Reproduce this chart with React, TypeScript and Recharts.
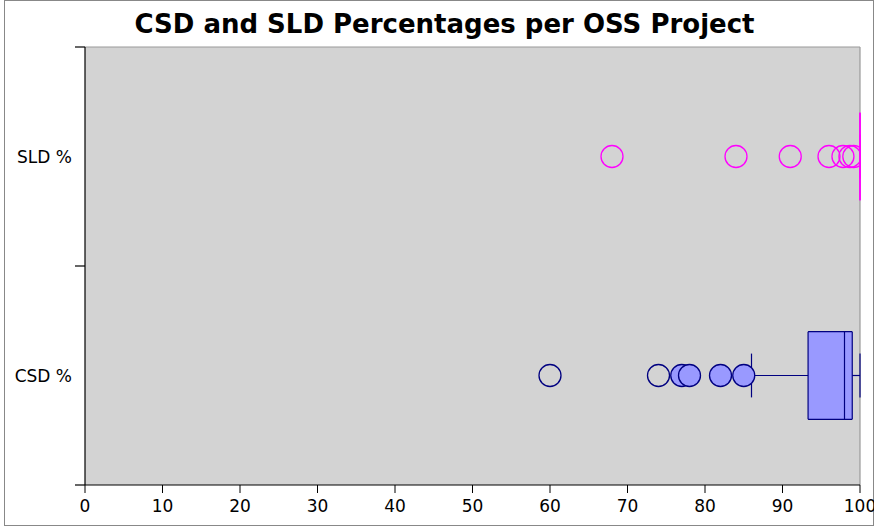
import {
  CartesianGrid,
  ComposedChart,
  ReferenceArea,
  ReferenceLine,
  Scatter,
  XAxis,
  YAxis,
} from 'recharts'

const categories = ['CSD %', 'SLD %']
const categoryPos = [1, 3]
const xTicks = [0, 10, 20, 30, 40, 50, 60, 70, 80, 90, 100]
const yTicks = [0, 1, 2, 3, 4]

// five-number summaries per category
const boxLow = [86, 100]
const boxQ1 = [93.3, 100]
const boxMedian = [98, 100]
const boxQ3 = [99, 100]
const boxHigh = [100, 100]

// outliers: mild = inside 3*IQR (filled), extreme = outside (hollow)
const csdOutliers = [60, 74, 77, 78, 82, 85]
const csdOutlierKind = ['extreme', 'extreme', 'mild', 'mild', 'mild', 'mild']
const sldOutliers = [68, 84, 91, 96, 97.8, 98.7, 99.2]
const sldOutlierKind = ['extreme', 'extreme', 'extreme', 'extreme', 'extreme', 'extreme', 'extreme']

const colors = ['#000080', '#ff00ff']
const boxFill = '#9999ff'

const csdPoints = csdOutliers.map((x, i) => ({ x, y: categoryPos[0], kind: csdOutlierKind[i] }))
const sldPoints = sldOutliers.map((x, i) => ({ x, y: categoryPos[1], kind: sldOutlierKind[i] }))

function boxElements(i: number) {
  const y = categoryPos[i]
  const c = colors[i]
  const half = 0.4
  const cap = 0.2
  const seg = (x1: number, y1: number, x2: number, y2: number, key: string) => (
    <ReferenceLine
      key={`${i}-${key}`}
      segment={[{ x: x1, y: y1 }, { x: x2, y: y2 }]}
      stroke={c}
      strokeWidth={1.2}
      ifOverflow="visible"
    />
  )
  return [
    boxQ3[i] > boxQ1[i] ? (
      <ReferenceArea
        key={`${i}-area`}
        x1={boxQ1[i]}
        x2={boxQ3[i]}
        y1={y - half}
        y2={y + half}
        fill={boxFill}
        fillOpacity={1}
        stroke="none"
        ifOverflow="visible"
      />
    ) : null,
    seg(boxLow[i], y, boxQ1[i], y, 'wl'),
    seg(boxQ3[i], y, boxHigh[i], y, 'wh'),
    seg(boxLow[i], y - cap, boxLow[i], y + cap, 'cl'),
    seg(boxHigh[i], y - cap, boxHigh[i], y + cap, 'ch'),
    seg(boxQ1[i], y - half, boxQ3[i], y - half, 'bb'),
    seg(boxQ1[i], y + half, boxQ3[i], y + half, 'bt'),
    seg(boxQ1[i], y - half, boxQ1[i], y + half, 'bl'),
    seg(boxQ3[i], y - half, boxQ3[i], y + half, 'br'),
    seg(boxMedian[i], y - half, boxMedian[i], y + half, 'md'),
  ]
}

function outlierShape(color: string) {
  return (props: any) => {
    const { cx, cy, payload } = props
    if (cx == null || cy == null) return null
    return (
      <circle
        cx={cx}
        cy={cy}
        r={11}
        fill={payload.kind === 'mild' ? boxFill : 'none'}
        stroke={color}
        strokeWidth={1.3}
      />
    )
  }
}

function YTick(props: any) {
  const { x, y, payload } = props
  const idx = categoryPos.indexOf(payload.value)
  if (idx >= 0) {
    return (
      <text x={x - 1} y={y} dy={6} textAnchor="end" fill="#000" fontSize={17}>
        {categories[idx]}
      </text>
    )
  }
  return <line x1={x + 2} x2={x + 12} y1={y} y2={y} stroke="#000" strokeWidth={1.2} />
}

export default function App() {
  return (
    <div
      style={{
        position: 'absolute',
        left: 0,
        top: 0,
        width: 874,
        height: 526,
        background: '#fff',
        fontFamily: '"DejaVu Sans", sans-serif',
      }}
    >
      <div
        style={{
          position: 'absolute',
          left: 4,
          top: 0,
          width: 870,
          height: 526,
          boxSizing: 'border-box',
          border: '1px solid #888',
        }}
      />
      <div
        style={{
          position: 'absolute',
          left: 0,
          top: 9,
          width: 889,
          textAlign: 'center',
          fontSize: 26,
          fontWeight: 'bold',
          whiteSpace: 'nowrap',
          color: '#000',
        }}
      >
        CSD and SLD Percentages per OSS Project
      </div>
      <div style={{ position: 'absolute', left: 0, top: 0 }}>
        <ComposedChart
          width={874}
          height={526}
          margin={{ top: 47, right: 14, left: 0, bottom: 0 }}
          style={{ fontFamily: '"DejaVu Sans", sans-serif' }}
        >
          <CartesianGrid fill="#d3d3d3" horizontal={false} vertical={false} />
          <XAxis
            type="number"
            dataKey="x"
            domain={[0, 100]}
            ticks={xTicks}
            allowDataOverflow
            height={41}
            tickSize={8}
            tickMargin={7}
            stroke="#000"
            axisLine={{ stroke: '#000', strokeWidth: 1.2 }}
            tick={{ fill: '#000', fontSize: 17 }}
          />
          <YAxis
            type="number"
            dataKey="y"
            domain={[0, 4]}
            ticks={yTicks}
            allowDataOverflow
            width={85}
            tickSize={10}
            tickMargin={2}
            tickLine={false}
            axisLine={{ stroke: '#000', strokeWidth: 1.2 }}
            tick={<YTick />}
            interval={0}
          />
          <ReferenceLine y={4} stroke="#999" strokeWidth={1.2} />
          <ReferenceLine x={100} stroke="#999" strokeWidth={1.2} />
          {boxElements(0)}
          {boxElements(1)}
          <Scatter data={csdPoints} isAnimationActive={false} shape={outlierShape(colors[0])} />
          <Scatter data={sldPoints} isAnimationActive={false} shape={outlierShape(colors[1])} />
        </ComposedChart>
      </div>
    </div>
  )
}
